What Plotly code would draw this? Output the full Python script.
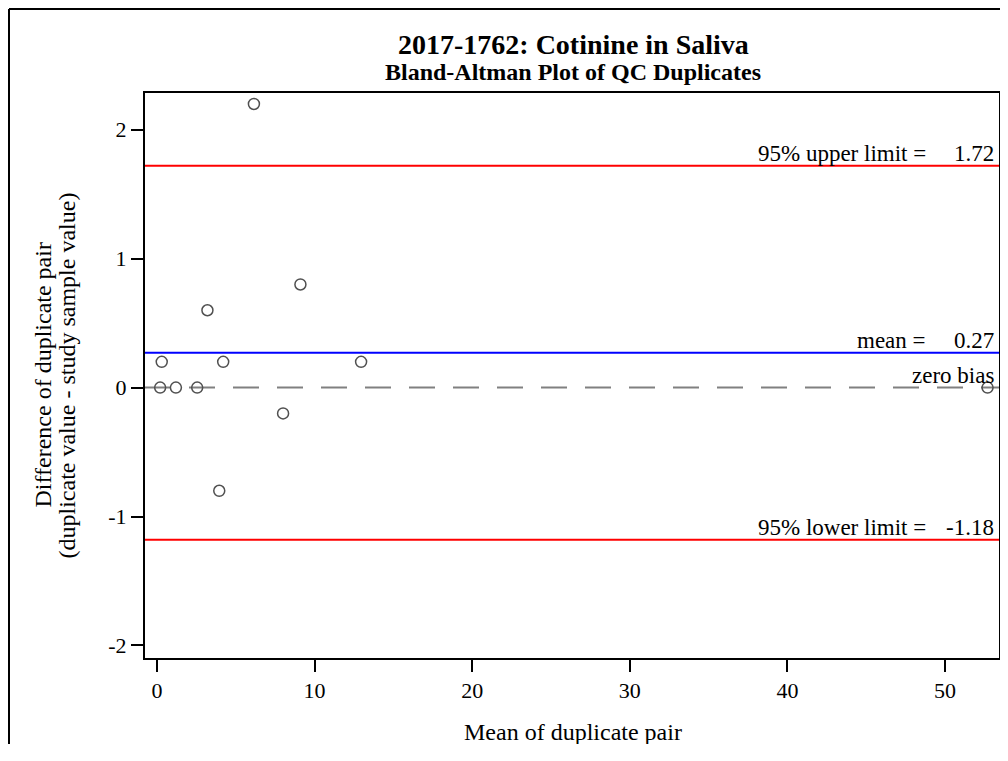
import plotly.graph_objects as go

# Data
mean_pair = [6.15, 3.2, 9.1, 0.3, 4.2, 12.95, 0.2, 1.2, 2.55, 8.0, 3.95, 52.7]
diff_pair = [2.2, 0.6, 0.8, 0.2, 0.2, 0.2, 0.0, 0.0, 0.0, -0.2, -0.8, 0.0]

upper_limit = 1.72
mean_diff = 0.27
lower_limit = -1.18
zero_bias = 0.0

x_ticks = [0, 10, 20, 30, 40, 50]
y_ticks = [-2, -1, 0, 1, 2]

FONT = "Liberation Serif, Times New Roman, serif"

W, H = 992, 736
L, R, T, B = 137, 1, 85, 86
plot_top, plot_bottom = T, H - B
ph = plot_bottom - plot_top
pw = W - L - R


def py(pix):
    return (plot_bottom - pix) / ph


def px(pix):
    return (pix - L) / pw


# x pixel scale of the reference: 0 -> 149 px, 50 -> 937 px (figure coords)
x_per_px = 50 / (937 - 149)
x_range = [(L - 149) * x_per_px, (W - R - 149) * x_per_px]

fig = go.Figure()

# reference lines
fig.add_hline(y=zero_bias, line=dict(color="#808080", width=2, dash="26px,18px"), layer="below")
fig.add_hline(y=upper_limit, line=dict(color="#FF0000", width=2), layer="below")
fig.add_hline(y=lower_limit, line=dict(color="#FF0000", width=2), layer="below")
fig.add_hline(y=mean_diff, line=dict(color="#0000FF", width=2), layer="below")

fig.add_trace(go.Scatter(
    x=mean_pair, y=diff_pair, mode="markers",
    marker=dict(symbol="circle-open", size=11, color="#505050", line=dict(width=1.5, color="#505050")),
    showlegend=False, hoverinfo="x+y",
))

ann_font = dict(family=FONT, size=23, color="black")
x_lab, x_val = px(920), px(988)
labels = [
    ("95% upper limit =", f"{upper_limit:.2f}", upper_limit),
    ("mean =", f"{mean_diff:.2f}", mean_diff),
    ("95% lower limit =", f"{lower_limit:.2f}", lower_limit),
]
for lab, val, yv in labels:
    fig.add_annotation(x=x_lab, xref="x domain", y=yv, yref="y", text=lab,
                       xanchor="right", yanchor="bottom", showarrow=False, font=ann_font, yshift=-2)
    fig.add_annotation(x=x_val, xref="x domain", y=yv, yref="y", text=val,
                       xanchor="right", yanchor="bottom", showarrow=False, font=ann_font, yshift=-2)
fig.add_annotation(x=x_val, xref="x domain", y=zero_bias, yref="y", text="zero bias",
                   xanchor="right", yanchor="bottom", showarrow=False, font=ann_font, yshift=-2)

# titles (centred over the plot frame as in the reference)
cx = px(565)
fig.add_annotation(x=cx, xref="paper", y=py(36), yref="paper", yanchor="middle",
                   text="<b>2017-1762: Cotinine in Saliva</b>",
                   showarrow=False, font=dict(family=FONT, size=28, color="black"))
fig.add_annotation(x=cx, xref="paper", y=py(64), yref="paper", yanchor="middle",
                   text="<b>Bland-Altman Plot of QC Duplicates</b>",
                   showarrow=False, font=dict(family=FONT, size=24, color="black"))

# axis titles
ax_font = dict(family=FONT, size=24, color="black")
fig.add_annotation(x=cx, xref="paper", y=py(724), yref="paper", yanchor="middle",
                   text="Mean of duplicate pair", showarrow=False, font=ax_font)
fig.add_annotation(x=px(34), xref="paper", y=0.5, yref="y domain", xanchor="center", yanchor="middle",
                   text="Difference of duplicate pair", textangle=-90, showarrow=False, font=ax_font)
fig.add_annotation(x=px(58), xref="paper", y=0.5, yref="y domain", xanchor="center", yanchor="middle",
                   text="(duplicate value - study sample value)", textangle=-90, showarrow=False, font=ax_font)

# outer border of the figure
fig.add_shape(type="line", xref="paper", yref="paper", x0=px(1), x1=px(1010),
              y0=py(1), y1=py(1), line=dict(color="black", width=2))
fig.add_shape(type="line", xref="paper", yref="paper", x0=px(1), x1=px(1),
              y0=py(1), y1=py(770), line=dict(color="black", width=2))

fig.update_xaxes(
    range=x_range, tickvals=x_ticks, ticktext=[str(t) for t in x_ticks],
    showgrid=False, zeroline=False, showline=True, linecolor="black", linewidth=2, mirror=True,
    ticks="outside", ticklen=12, tickwidth=2, tickcolor="black",
    tickfont=dict(family=FONT, size=22, color="black"),
)
fig.update_yaxes(
    range=[-2.097, 2.285], tickvals=y_ticks, ticktext=[str(t) for t in y_ticks],
    showgrid=False, zeroline=False, showline=True, linecolor="black", linewidth=2, mirror=True,
    ticks="outside", ticklen=12, tickwidth=2, tickcolor="black",
    tickfont=dict(family=FONT, size=22, color="black"),
)

fig.update_layout(
    width=W, height=H,
    margin=dict(l=L, r=R, t=T, b=B, autoexpand=False),
    paper_bgcolor="white", plot_bgcolor="white",
)

fig.write_html("out.html")
